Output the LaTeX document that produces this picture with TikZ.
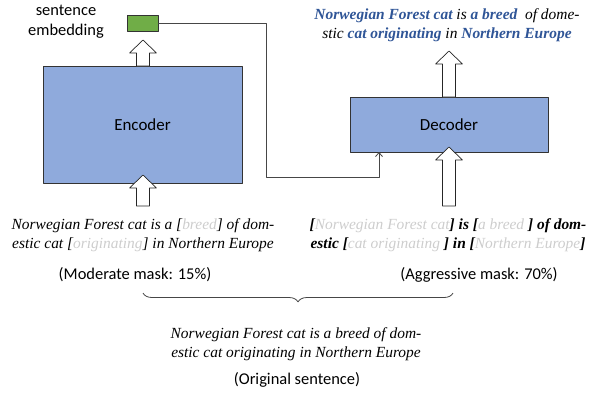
\documentclass[tikz,border=0pt]{standalone}
\usepackage{fontspec}
\setmainfont{Liberation Serif}
\newfontfamily\labelfont{Carlito}
\usetikzlibrary{arrows.meta,decorations.pathreplacing}
\definecolor{boxblue}{RGB}{143,170,220}
\definecolor{embgreen}{RGB}{112,173,71}
\definecolor{outblue}{RGB}{47,85,151}
\definecolor{maskgray}{RGB}{205,205,205}
\definecolor{linegray}{RGB}{70,70,70}
\newcommand{\outword}[1]{\textcolor{outblue}{\textbf{#1}}}
\newcommand{\maskword}[1]{\textcolor{maskgray}{\mdseries #1}}
% hollow up arrow: x, y of tail, y of tip
\newcommand{\hollowarrow}[3]{%
  \draw [draw=black!85,fill=white,line width=0.7bp] (#1-6.5,#2) -- (#1-6.5,#3+13) -- (#1-13.5,#3+13) -- (#1,#3)
    -- (#1+13.5,#3+13) -- (#1+6.5,#3+13) -- (#1+6.5,#2) -- cycle;}
\begin{document}
\begin{tikzpicture}[x=1bp,y=-1bp,>={Straight Barb[length=4bp,width=7bp]},line join=bevel,
  block/.style={draw=black!80,fill=boxblue,line width=0.8bp,inner sep=0pt,font=\labelfont\fontsize{17}{20}\selectfont},
  sans/.style={inner sep=0pt,align=center,font=\labelfont\fontsize{16.5}{20}\selectfont},
  sentence/.style={inner sep=0pt,align=center,font=\itshape\fontsize{15.5}{19}\selectfont},
  link/.style={draw=linegray,line width=0.8bp,->}]
\useasboundingbox (0,0) rectangle (592,392);
%%
\node (encoder) at (142.5,124.5) [block,minimum width=199bp,minimum height=117bp] {Encoder};
\node (decoder) at (449,124.5) [block,minimum width=198bp,minimum height=55bp] {Decoder};
\node (emb) at (142.5,23) [draw=black!80,fill=embgreen,line width=0.8bp,minimum width=31bp,minimum height=16bp,inner sep=0pt] {};
\node (embtext) at (66,22) [sans] {sentence\\embedding};
%
\coordinate (bend) at (266,177);
\coordinate (decin) at (379,152);
\draw [link] (emb.east) -| (bend) -| (decin);
%
\hollowarrow{143}{66}{40}
\hollowarrow{143}{206}{175}
\hollowarrow{449}{97}{51}
\hollowarrow{449}{206}{147}
%
\node (decout) at (447,25) [sentence] {\outword{Norwegian Forest cat} is \outword{a breed}\ \ of dome-\\stic \outword{cat originating} in \outword{Northern Europe}};
\node (encinput) at (143,235) [sentence] {Norwegian Forest cat is a [\maskword{breed}] of dom-\\estic cat [\maskword{originating}] in Northern Europe};
\node (decinput) at (448,235) [sentence] {\bfseries [\maskword{Norwegian Forest cat}] is [\maskword{a breed }] of dom-\\\bfseries estic [\maskword{cat originating }] in [\maskword{Northern Europe}]};
\node (modmask) at (135,275) [sans] {(Moderate mask: 15\%)};
\node (aggmask) at (479,275) [sans] {(Aggressive mask: 70\%)};
%
\coordinate (braceL) at (143,293);
\coordinate (braceR) at (453,293);
\draw [draw=linegray,line width=0.8bp,decorate,decoration={brace,mirror,amplitude=9bp}] (braceL) -- (braceR);
\node (orig) at (296,344) [sentence] {Norwegian Forest cat is a breed of dom-\\estic cat originating in Northern Europe};
\node (origtext) at (297,380) [sans] {(Original sentence)};
%
\end{tikzpicture}
\end{document}
